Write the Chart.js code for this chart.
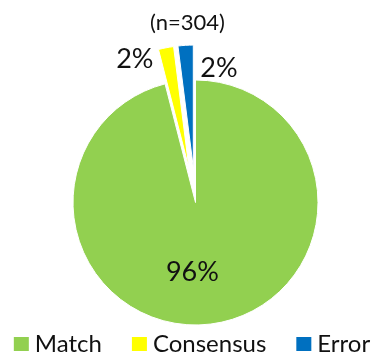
<!DOCTYPE html>
<html>
<head>
<meta charset="utf-8">
<script src="https://cdn.jsdelivr.net/npm/chart.js@4.4.1/dist/chart.umd.min.js"></script>
<style>
  html, body { margin: 0; padding: 0; background: #ffffff; }
  #wrap { width: 374px; height: 354px; position: relative; }
</style>
</head>
<body>
<div id="wrap"><canvas id="pie" width="374" height="354"></canvas></div>
<script>
// Share of outcomes (percent of all cases)
const categories = ['Match', 'Consensus', 'Error'];
const shares = [96, 2, 2];
const sampleSize = 304;
const sliceColors = ['#92D050', '#FFFF00', '#0070C0'];

const FONT = 'Lato, "Liberation Sans", sans-serif';
const TEXT = '#111111';
const PIE_RADIUS = 122.5;
const EXPLODE = 35;                 // pull-out distance for the small slices
const explodedSlices = ['Consensus', 'Error'];

// Pull chosen slices straight out along their bisector.
const explodePlugin = {
  id: 'explode',
  afterDatasetUpdate(chart, args) {
    args.meta.data.forEach((arc, i) => {
      if (!explodedSlices.includes(chart.data.labels[i])) return;
      const mid = (arc.startAngle + arc.endAngle) / 2;
      arc.x += Math.cos(mid) * EXPLODE;
      arc.y += Math.sin(mid) * EXPLODE;
    });
  }
};

// Title, percentage labels and legend drawn on the canvas.
const textPlugin = {
  id: 'texts',
  afterDraw(chart) {
    const ctx = chart.ctx;
    const meta = chart.getDatasetMeta(0);
    const values = chart.data.datasets[0].data;
    ctx.save();
    ctx.fillStyle = TEXT;
    ctx.textBaseline = 'alphabetic';

    // sample size above the pie
    ctx.font = '22px ' + FONT;
    ctx.textAlign = 'center';
    ctx.fillText('(n=' + sampleSize + ')', 187.5, 30);

    // percentage labels
    ctx.font = '27px ' + FONT;
    meta.data.forEach((arc, i) => {
      const text = values[i] + '%';
      const r = arc.outerRadius;
      if (i === 0) {
        ctx.textAlign = 'center';
        ctx.fillText(text, arc.x - 0.025 * r, arc.y + 0.637 * r);
      } else if (i === 1) {
        // left of the slice's outer left corner
        const cx = arc.x + Math.cos(arc.startAngle) * r;
        const cy = arc.y + Math.sin(arc.startAngle) * r;
        ctx.textAlign = 'right';
        ctx.fillText(text, cx - 5, cy + 19);
      } else {
        // right of the slice's outer right corner
        const cx = arc.x + Math.cos(arc.endAngle) * r;
        const cy = arc.y + Math.sin(arc.endAngle) * r;
        ctx.textAlign = 'left';
        ctx.fillText(text, cx + 7, cy + 31.5);
      }
    });

    // legend along the bottom
    ctx.font = '24px ' + FONT;
    ctx.textAlign = 'left';
    const box = 15, boxH = 14, gap = 6, itemGap = 30;
    const widths = categories.map(c => ctx.measureText(c).width);
    const total = widths.reduce((s, w) => s + box + gap + w, 0) + itemGap * (categories.length - 1);
    let x = 192 - total / 2;
    categories.forEach((c, i) => {
      ctx.fillStyle = sliceColors[i];
      ctx.fillRect(x, 337, box, boxH);
      ctx.fillStyle = TEXT;
      ctx.fillText(c, x + box + gap, 351.5);
      x += box + gap + widths[i] + itemGap;
    });
    ctx.restore();
  }
};

new Chart(document.getElementById('pie'), {
  type: 'pie',
  data: {
    labels: categories,
    datasets: [{
      data: shares,
      backgroundColor: sliceColors,
      borderColor: '#ffffff',
      borderWidth: 1
    }]
  },
  options: {
    responsive: false,
    animation: false,
    events: [],
    radius: PIE_RADIUS,
    layout: { padding: { left: 17, right: 0, top: 51, bottom: 0 } },
    plugins: {
      legend: { display: false },
      title: { display: false },
      tooltip: { enabled: false }
    }
  },
  plugins: [explodePlugin, textPlugin]
});
</script>
</body>
</html>
